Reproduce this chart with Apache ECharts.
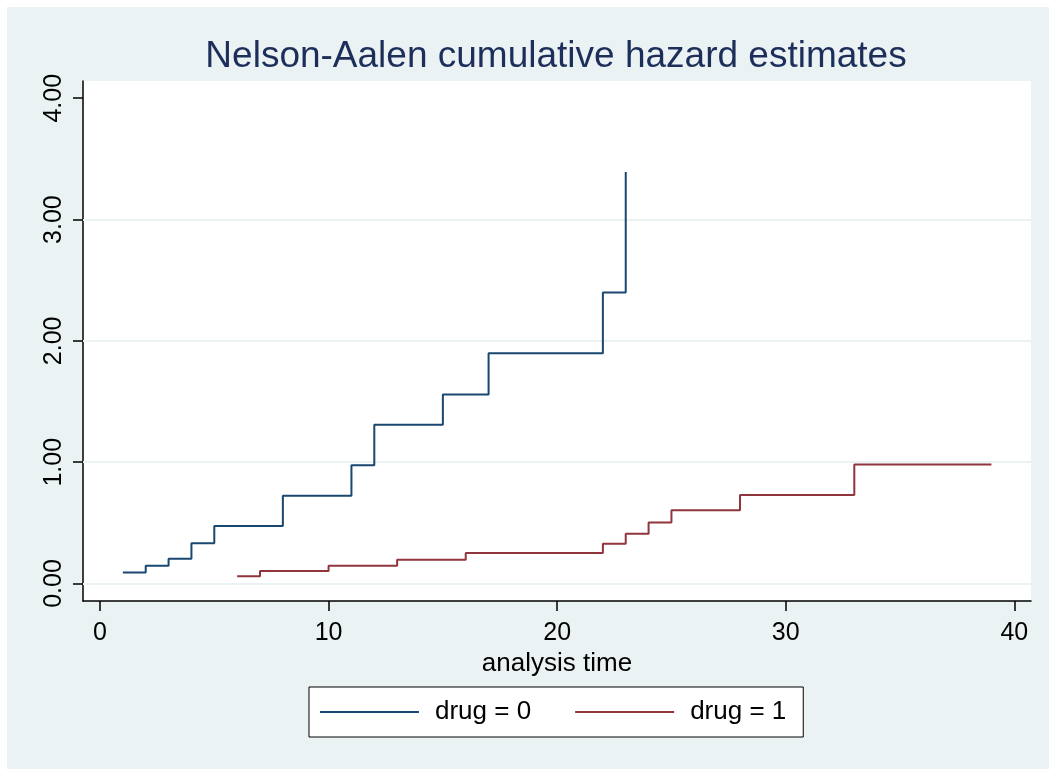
<!DOCTYPE html>
<html>
<head>
<meta charset="utf-8">
<title>Nelson-Aalen cumulative hazard estimates</title>
<script src="https://cdn.jsdelivr.net/npm/echarts@6/dist/echarts.min.js"></script>
<style>
  html, body { margin: 0; padding: 0; background: #ffffff; overflow: hidden; }
  #chart { width: 1049px; height: 769px; }
</style>
</head>
<body>
<div id="chart"></div>
<script>
// Nelson-Aalen cumulative hazard, by drug group (step functions)
const timesDrug0 = [1, 2, 3, 4, 5, 8, 11, 12, 15, 17, 22, 23];
const hazardDrug0 = [0.091, 0.147, 0.205, 0.331, 0.474, 0.723, 0.974, 1.308, 1.558, 1.899, 2.399, 3.392];

const timesDrug1 = [6, 7, 10, 13, 16, 22, 23, 24, 25, 28, 33, 39];
const hazardDrug1 = [0.059, 0.103, 0.147, 0.196, 0.251, 0.328, 0.410, 0.504, 0.603, 0.729, 0.982, 0.982];

const xTicks = [0, 10, 20, 30, 40];
const yTicks = [0, 1, 2, 3, 4];
const yGridLines = [0, 1, 2, 3];

const seriesNames = ['drug = 0', 'drug = 1'];

const FONT = "'Liberation Sans', Arial, Helvetica, sans-serif";
const NAVY = '#1a476f';
const MAROON = '#90353b';
const BG = '#eaf2f3';

const pairs = (xs, ys) => xs.map((x, i) => [x, ys[i]]);

const chart = echarts.init(document.getElementById('chart'), null, { renderer: 'canvas' });

chart.setOption({
  backgroundColor: BG,
  animation: false,
  textStyle: { fontFamily: FONT },
  title: {
    text: 'Nelson-Aalen cumulative hazard estimates',
    left: 551,
    top: 33,
    textAlign: 'center',
    textStyle: { fontFamily: FONT, fontSize: 37, fontWeight: 'normal', color: '#1d2e5a' }
  },
  graphic: [
    { type: 'rect', z: 100, shape: { x: 0, y: 0, width: 1049, height: 7 }, style: { fill: '#ffffff' } },
    { type: 'rect', z: 100, shape: { x: 0, y: 0, width: 7, height: 769 }, style: { fill: '#ffffff' } }
  ],
  grid: {
    left: 83,
    right: 18,
    top: 81,
    bottom: 168,
    show: true,
    backgroundColor: '#ffffff',
    borderWidth: 0
  },
  xAxis: {
    type: 'value',
    min: -0.744,
    max: 40.73,
    name: 'analysis time',
    nameLocation: 'middle',
    nameGap: 49,
    nameTextStyle: { fontFamily: FONT, fontSize: 26, color: '#000000' },
    axisLine: { show: true, onZero: false, lineStyle: { color: '#000000', width: 1.5 } },
    axisTick: { show: true, length: 10, customValues: xTicks, lineStyle: { color: '#000000', width: 1.5 } },
    axisLabel: { customValues: xTicks, margin: 20, fontFamily: FONT, fontSize: 25, color: '#000000' },
    splitLine: { show: false }
  },
  yAxis: {
    type: 'value',
    min: -0.144,
    max: 4.142,
    axisLine: { show: true, onZero: false, lineStyle: { color: '#000000', width: 1.5 } },
    axisTick: { show: true, length: 10, customValues: yTicks, lineStyle: { color: '#000000', width: 1.5 } },
    axisLabel: {
      customValues: yTicks,
      rotate: 90,
      margin: 16,
      fontFamily: FONT,
      fontSize: 25,
      color: '#000000',
      formatter: v => v.toFixed(2)
    },
    splitLine: { show: false }
  },
  legend: {
    data: seriesNames,
    left: 309,
    top: 687,
    orient: 'horizontal',
    backgroundColor: '#ffffff',
    borderColor: '#000000',
    borderWidth: 1,
    padding: [12, 17, 12, 11],
    itemGap: 44,
    itemWidth: 99,
    itemHeight: 2,
    icon: 'rect',
    textStyle: { fontFamily: FONT, fontSize: 26, color: '#000000', padding: [0, 0, 0, 11] }
  },
  series: [
    {
      name: seriesNames[0],
      type: 'line',
      step: 'end',
      showSymbol: false,
      symbol: 'none',
      z: 3,
      color: NAVY,
      lineStyle: { color: NAVY, width: 2 },
      data: pairs(timesDrug0, hazardDrug0),
      markLine: {
        silent: true,
        z: 1,
        symbol: 'none',
        label: { show: false },
        lineStyle: { color: BG, width: 2, type: 'solid' },
        data: yGridLines.map(v => ({ yAxis: v }))
      }
    },
    {
      name: seriesNames[1],
      type: 'line',
      step: 'end',
      showSymbol: false,
      symbol: 'none',
      z: 3,
      color: MAROON,
      lineStyle: { color: MAROON, width: 2 },
      data: pairs(timesDrug1, hazardDrug1)
    }
  ]
});
</script>
</body>
</html>
